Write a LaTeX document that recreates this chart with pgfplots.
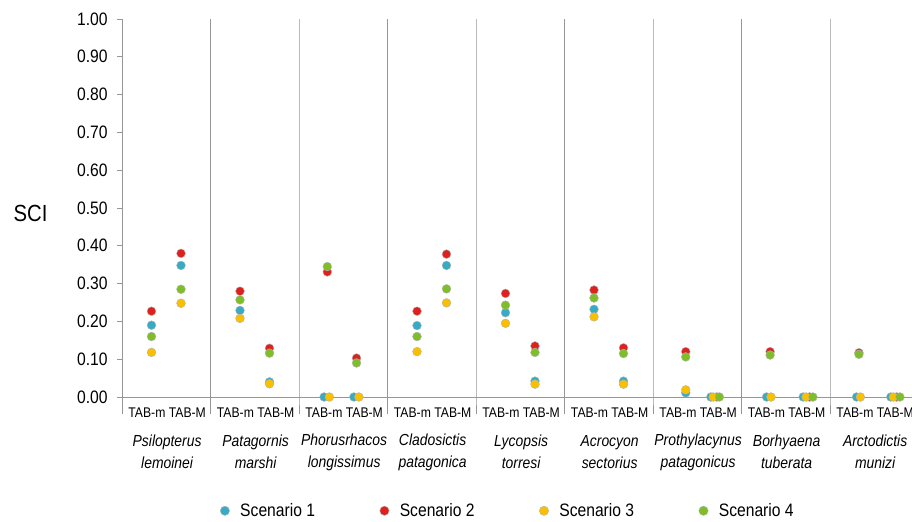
\documentclass[border=0pt]{standalone}
\usepackage{pgfplots}
\pgfplotsset{compat=1.18}
\usepackage{pgfplotstable}
\usepackage{fontspec}
\setmainfont[FakeStretch=0.87]{Liberation Sans}
\definecolor{sA}{RGB}{54,172,196}
\definecolor{sB}{RGB}{222,32,30}
\definecolor{sC}{RGB}{250,192,0}
\definecolor{sD}{RGB}{126,190,40}
\definecolor{lg}{RGB}{150,150,150}

\pgfplotstableread{
x y
1 0.190
2 0.348
4 0.229
5 0.040
6.85 0
7.86 0
10 0.189
11 0.348
13 0.223
14 0.042
16 0.232
17 0.042
19.11 0.011
19.96 0
21.85 0
23.09 0
24.90 0
26.06 0
}\sone
\pgfplotstableread{
x y
1 0.227
2 0.380
4 0.280
5 0.129
6.96 0.331
7.95 0.103
10 0.227
11 0.378
13 0.274
14 0.135
16 0.283
17 0.130
19.11 0.120
20.16 0
21.97 0.120
23.31 0
24.98 0.117
26.26 0
}\stwo
\pgfplotstableread{
x y
1 0.118
2 0.248
4 0.208
5 0.035
7.03 0
8.03 0
10 0.120
11 0.249
13 0.195
14 0.034
16 0.212
17 0.034
19.11 0.019
20.04 0
22.00 0
23.19 0
25.03 0
26.15 0
}\sthree
\pgfplotstableread{
x y
1 0.160
2 0.285
4 0.257
5 0.116
6.96 0.345
7.95 0.090
10 0.160
11 0.286
13 0.243
14 0.118
16 0.262
17 0.115
19.11 0.106
20.25 0
21.97 0.111
23.42 0
24.98 0.113
26.37 0
}\sfour

\newcommand{\grp}[3]{%
  \node[font=\fontsize{10.5}{12}\selectfont, anchor=center, yshift=-12pt] at (axis cs:#1,0) {TAB-m TAB-M};
  \node[font=\fontsize{12}{16.5}\selectfont\itshape, align=center, anchor=center, yshift=-41.25pt] at (axis cs:#1,0) {#2\\#3};
}

\begin{document}
\begin{tikzpicture}
\useasboundingbox (0,0) rectangle (684pt,390.75pt);
\node[font=\fontsize{17.5}{20}\selectfont] at (22.9pt,231pt) {SCI};
\begin{axis}[
  at={(91.5pt,93pt)}, anchor=south west,
  scale only axis, width=592.5pt, height=283.5pt,
  xmin=0, xmax=26.78, ymin=0, ymax=1,
  clip=false,
  axis x line*=bottom, axis y line*=left,
  axis line style={lg, line width=0.6pt},
  xtick=\empty,
  ytick={0,0.1,...,1.0},
  yticklabels={0.00,0.10,0.20,0.30,0.40,0.50,0.60,0.70,0.80,0.90,1.00},
  tick align=outside, major tick length=3.75pt,
  tick style={lg, line width=0.6pt},
  yticklabel style={font=\fontsize{13.5}{15}\selectfont, xshift=-3.5pt},
  legend columns=4,
  legend style={at={(0.489,-0.301)}, anchor=center, draw=none, fill=none,
    font=\fontsize{13.5}{15}\selectfont,
    /tikz/every even column/.append style={column sep=46.5pt}},
  legend image code/.code={\draw[#1, mark size=3.5pt] plot coordinates {(0pt,0pt)}; \path[draw=none] (0pt,0pt) rectangle (9.5pt,0pt);},
  every axis plot/.append style={only marks, mark=*, mark size=3.3pt},
]
\pgfplotsinvokeforeach{3,6,...,24}{
  \draw[lg, line width=0.6pt] (axis cs:#1,1) -- (axis cs:#1,0) -- ++(0,-13pt);
}
\draw[lg, line width=0.6pt] (axis cs:0,0) -- ++(0,-13pt);
\addplot[only marks, mark options={fill=sA, draw=gray!60, line width=0.3pt}] table[x=x,y=y] {\sone};
\addlegendentry{Scenario 1}
\addplot[only marks, mark options={fill=sB, draw=gray!60, line width=0.3pt}] table[x=x,y=y] {\stwo};
\addlegendentry{Scenario 2}
\addplot[only marks, mark options={fill=sC, draw=gray!60, line width=0.3pt}] table[x=x,y=y] {\sthree};
\addlegendentry{Scenario 3}
\addplot[only marks, mark options={fill=sD, draw=gray!60, line width=0.3pt}] table[x=x,y=y] {\sfour};
\addlegendentry{Scenario 4}
\grp{1.53}{Psilopterus}{lemoinei}
\grp{4.53}{Patagornis}{marshi}
\grp{7.53}{Phorusrhacos}{longissimus}
\grp{10.53}{Cladosictis}{patagonica}
\grp{13.53}{Lycopsis}{torresi}
\grp{16.53}{Acrocyon}{sectorius}
\grp{19.53}{Prothylacynus}{patagonicus}
\grp{22.53}{Borhyaena}{tuberata}
\grp{25.53}{Arctodictis}{munizi}
\end{axis}
\end{tikzpicture}
\end{document}
